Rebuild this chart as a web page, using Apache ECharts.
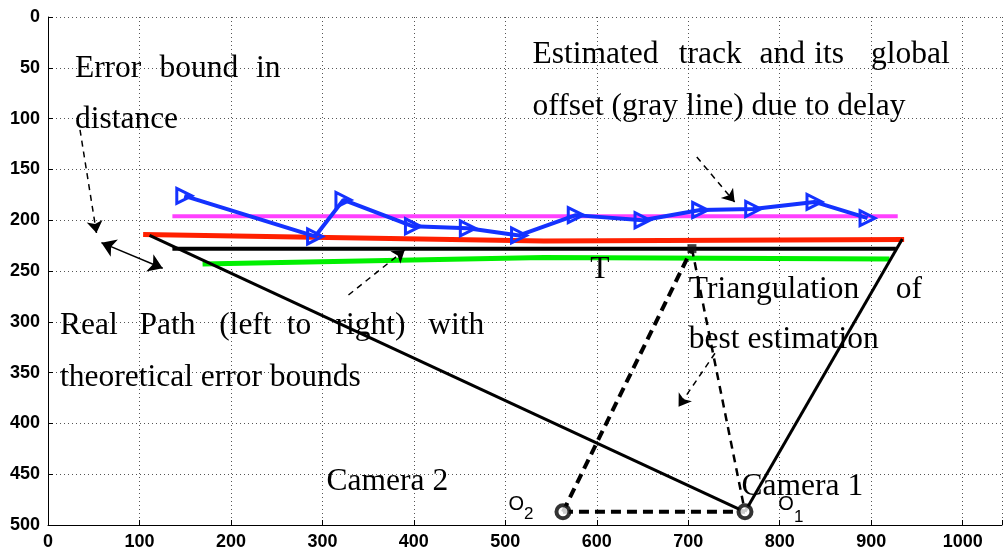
<!DOCTYPE html>
<html><head><meta charset="utf-8">
<script src="https://cdn.jsdelivr.net/npm/echarts@6/dist/echarts.min.js"></script>
<style>html,body{margin:0;padding:0;background:#fff}#c{width:1005px;height:556px}</style>
</head><body><div id="c"></div>
<script>
// ---- data (image coordinates, y grows downward) ----
const trackX = [149, 292, 323, 399, 459, 515, 577, 650, 713, 771, 838, 896];
const trackY = [176, 216, 180, 206, 208, 215, 195, 200, 190, 189, 182, 198];
const offsetLine = [[136, 196], [929, 196]];
const upperBound = [[104, 214], [542, 220.5], [936, 219]];
const lowerBound = [[169, 243], [542, 236.6], [920, 238.3]];
const realPath = [[136, 228], [927, 228]];
const camera1 = [762, 487];
const camera2 = [563, 487];
const target = [704, 228];
const rayLeft = [[111, 215], camera1];
const rayRight = [[934, 218.5], camera1];
const baseLine = [camera2, camera1];
const rayCam2 = [camera2, target];
const rayCam1 = [target, camera1];
// arrows: [x1,y1,x2,y2]
const arrowErr = [35, 111, 53, 212.6];
const arrowDouble = [58.4, 222.1, 125.4, 247.3];
const arrowReal = [328.5, 273.6, 390, 229.3];
const arrowTrack = [709.3, 137.8, 750.7, 182.1];
const arrowTri = [729.2, 331, 689.4, 383.6];
// annotation words: [x, y, text]
const serifWords = [
  [29.4, 51.2, 'Error'], [121.8, 51.2, 'bound'], [227.4, 51.2, 'in'],
  [29.4, 101.4, 'distance'],
  [529.8, 37.4, 'Estimated'], [689.7, 37.4, 'track'], [777.8, 37.4, 'and'], [837.7, 37.4, 'its'], [899.7, 37.4, 'global'],
  [529.8, 88.6, 'offset (gray line) due to delay'],
  [13.1, 304.1, 'Real'], [100.1, 304.1, 'Path'], [187.1, 304.1, '(left'], [261.1, 304.1, 'to'], [314.4, 304.1, 'right)'], [415.6, 304.1, 'with'],
  [13.1, 355.3, 'theoretical error bounds'],
  [592.9, 249.0, 'T'],
  [700.6, 268.7, 'Triangulation'], [926.9, 268.7, 'of'],
  [700.6, 317.9, 'best estimation'],
  [304.6, 457.7, 'Camera 2'],
  [758.3, 462.6, 'Camera 1']
];
const sansLabels = [[503.5, 479.5, 'O', 20], [520.5, 489.5, '2', 17], [798.5, 479.5, 'O', 20], [815.5, 492, '1', 17]];
const xTickValues = [0, 100, 200, 300, 400, 500, 600, 700, 800, 900, 1000];
const yTickValues = [0, 50, 100, 150, 200, 250, 300, 350, 400, 450, 500];

// ---- chart ----
const chart = echarts.init(document.getElementById('c'), null, {renderer: 'canvas'});
const seg = (pts, color, width, type, z) => ({
  type: 'line', data: pts, symbol: 'none', silent: true, z: z || 2,
  lineStyle: {color: color, width: width, type: type || 'solid', cap: 'butt'}
});
const arrow = (a, type, width, both) => ({
  type: 'lines', coordinateSystem: 'cartesian2d', silent: true, z: 4,
  symbol: both ? ['arrow', 'arrow'] : ['none', 'arrow'], symbolSize: both ? 14 : 12,
  lineStyle: {color: '#000', width: width, type: type, opacity: 1, curveness: 0},
  data: [{coords: [[a[0], a[1]], [a[2], a[3]]]}]
});
const serifFont = '"Liberation Serif", "Times New Roman", serif';
const sansFont = '"Liberation Sans", Arial, sans-serif';

chart.setOption({
  animation: false,
  backgroundColor: '#fff',
  grid: {left: 48, right: -2, top: 17, bottom: 31},
  xAxis: {
    type: 'value', min: 0, max: 1043, interval: 100, position: 'bottom',
    axisLine: {onZero: false, lineStyle: {color: '#000', width: 1}},
    axisTick: {inside: true, length: 5, lineStyle: {color: '#000'}},
    axisLabel: {color: '#000', fontFamily: sansFont, fontSize: 18, fontWeight: 'bold', margin: 8,
      formatter: v => xTickValues.includes(v) ? String(v) : ''},
    splitLine: {show: true, lineStyle: {color: '#555', type: [1, 3], width: 1}}
  },
  yAxis: {
    type: 'value', min: 0, max: 500, interval: 50, inverse: true,
    axisLine: {show: true, onZero: false, lineStyle: {color: '#000', width: 1}},
    axisTick: {show: true, inside: true, length: 5, lineStyle: {color: '#000'}},
    axisLabel: {color: '#000', fontFamily: sansFont, fontSize: 18, fontWeight: 'bold', margin: 8,
      formatter: v => yTickValues.includes(v) ? String(v) : ''},
    splitLine: {show: true, lineStyle: {color: '#555', type: [1, 3], width: 1}}
  },
  series: [
    seg(offsetLine, '#FF40FF', 4),
    seg(upperBound, '#FF2000', 5),
    seg(lowerBound, '#00F000', 5),
    seg(realPath, '#000', 4),
    seg(rayLeft, '#000', 3),
    seg(rayRight, '#000', 3),
    seg(baseLine, '#000', 4, [10, 6]),
    seg(rayCam2, '#000', 4, [10, 6]),
    seg(rayCam1, '#000', 2.5, [8, 6]),
    {
      type: 'line', z: 5, silent: true,
      data: trackX.map((x, i) => [x, trackY[i]]),
      symbol: 'triangle', symbolSize: [15, 15], symbolRotate: -90, showAllSymbol: true,
      lineStyle: {color: '#1432FF', width: 4},
      itemStyle: {color: 'rgba(255,255,255,0)', borderColor: '#1432FF', borderWidth: 3}
    },
    {
      type: 'scatter', z: 6, silent: true, symbol: 'circle', symbolSize: 13,
      itemStyle: {color: '#fff', borderColor: '#000', borderWidth: 4},
      data: [camera2, camera1]
    },
    {
      type: 'scatter', z: 6, silent: true, symbol: 'rect', symbolSize: 9,
      itemStyle: {color: '#111'}, data: [target]
    },
    arrow(arrowErr, [6, 5], 1.5),
    arrow(arrowDouble, 'solid', 1.5, true),
    arrow(arrowReal, [6, 5], 1.5),
    arrow(arrowTrack, [6, 5], 1.5),
    arrow(arrowTri, [6, 5], 1.5),
    {
      type: 'scatter', z: 8, silent: true, clip: false, symbolSize: 0,
      itemStyle: {color: '#000'},
      label: {show: true, position: 'right', distance: 0, color: '#000', opacity: 1,
        fontFamily: serifFont, fontSize: 31.5, formatter: p => p.value[2]},
      data: serifWords
    },
    {
      type: 'scatter', z: 8, silent: true, clip: false, symbolSize: 0,
      itemStyle: {color: '#000'},
      label: {show: true, position: 'right', distance: 0, color: '#000', opacity: 1,
        fontFamily: sansFont, formatter: p => p.value[2]},
      data: sansLabels.map(s => ({value: [s[0], s[1], s[2]], label: {fontSize: s[3]}}))
    }
  ]
});
</script></body></html>
